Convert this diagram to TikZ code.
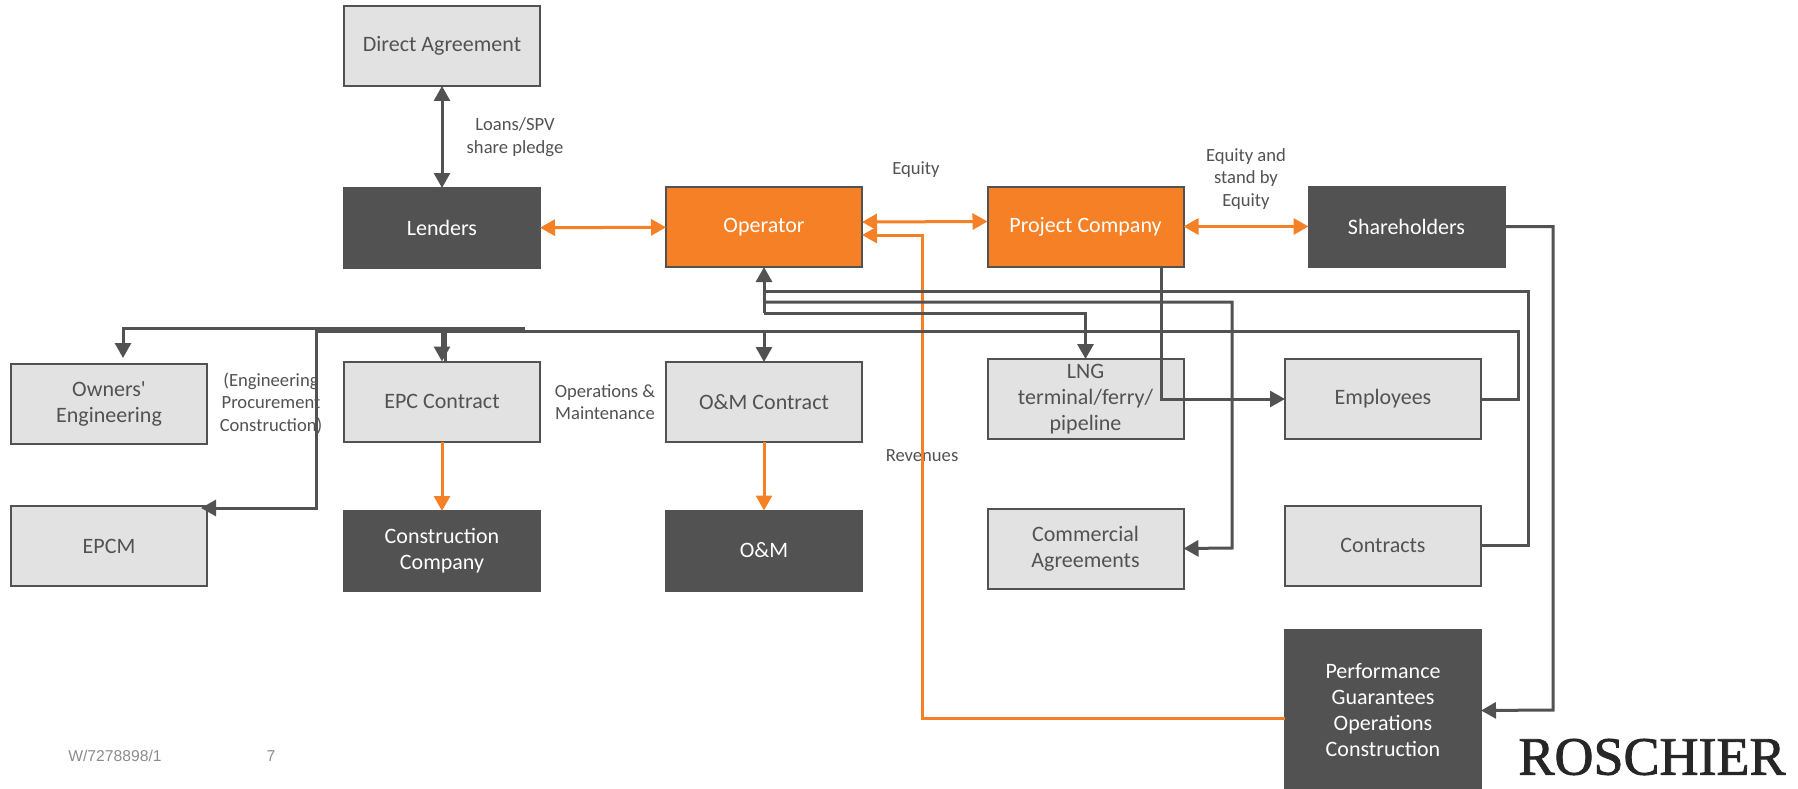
\documentclass[tikz,border=0pt]{standalone}
\usepackage{fontspec}
\setmainfont{Carlito}
\newfontfamily\footfont{Liberation Sans}
\newfontfamily\logofont[FakeBold=1.5]{Liberation Serif}
\usetikzlibrary{
    arrows.meta
}
\definecolor{ink}{HTML}{525252}
\definecolor{hot}{HTML}{F58025}
\definecolor{soft}{HTML}{E2E2E2}
\tikzset{
  basic/.style = {
      rectangle,
      minimum width=196pt,
      minimum height=80pt,
      inner sep=0pt,
      outer sep=0pt,
      line width=2pt,
      align=center,
      font=\fontsize{22}{26}\selectfont
  },
  softbox/.style = {
      basic,
      draw=ink,
      fill=soft,
      text=ink
  },
  darkbox/.style = {
      basic,
      draw=ink,
      fill=ink,
      text=white
  },
  hotbox/.style = {
      basic,
      draw=ink,
      fill=hot,
      text=white
  },
  caption/.style = {
      align=center,
      inner sep=0pt,
      text=ink,
      font=\fontsize{18.6}{22.5}\selectfont
  },
  link/.style = {
      draw=ink,
      line width=3pt
  },
  flow/.style = {
      draw=hot,
      line width=3pt
  }
}

\begin{document}
\begin{tikzpicture}[x=1pt, y=1pt, node distance=322pt, >={Triangle[length=15pt,width=16pt]}]
        \useasboundingbox (0,0) rectangle (1798,-789);
        % Top rows
        \node[softbox] (direct) at (442,-46) {Direct Agreement};
        \node[darkbox, below of=direct, node distance=182pt] (lenders) {Lenders};
        \node[hotbox, right of=lenders, yshift=1pt] (operator) {Operator};
        \node[hotbox, right of=operator, node distance=321.5pt, yshift=0.5pt] (project) {Project Company};
        \node[darkbox, right of=project, node distance=321pt] (shareholders) {Shareholders};
        % Contract rows
        \node[softbox, below of=lenders, node distance=173.5pt] (epc) {EPC Contract};
        \node[softbox, left of=epc, node distance=333pt, yshift=-2pt] (owners) {Owners\textquotesingle\\Engineering};
        \node[softbox, below of=operator, node distance=175pt] (omcontract) {O\&M Contract};
        \node[softbox, below of=project, node distance=172.5pt] (lng) {LNG\\terminal/ferry/\\pipeline};
        \node[softbox, right of=lng, node distance=297.5pt] (employees) {Employees};
        % Lower rows
        \node[softbox, below of=owners, node distance=142.5pt] (epcm) {EPCM};
        \node[darkbox, below of=epc, node distance=149.5pt] (construction) {Construction\\Company};
        \node[darkbox, below of=omcontract, node distance=148.5pt] (om) {O\&M};
        \node[softbox, below of=lng, node distance=149.5pt] (commercial) {Commercial\\Agreements};
        \node[softbox, below of=employees, node distance=146.5pt] (contracts) {Contracts};
        \node[darkbox, below of=contracts, node distance=165pt, minimum height=162pt] (perf) {Performance\\Guarantees\\Operations\\Construction};
        % Captions
        \node[caption] (loans) at (515,-137) {Loans/SPV\\share pledge};
        \node[caption] (equity) at (916,-170) {Equity};
        \node[caption] (standby) at (1246,-179) {Equity and\\stand by\\Equity};
        \node[caption] (engineering) at (271,-403) {(Engineering\\Procurement\\Construction)};
        \node[caption] (operations) at (605,-402) {Operations \&\\Maintenance};
        \node[caption] (revenues) at (922,-456) {Revenues};
        % Footer
        \node[text=gray!90, font=\footfont\fontsize{15.7}{18}\selectfont] (docref) at (115,-756) {W/7278898/1};
        \node[text=gray!90, font=\footfont\fontsize{15.7}{18}\selectfont] (pageno) at (271,-756) {7};
        \node[text=black!85, font=\logofont\fontsize{54}{60}\selectfont] (logo) at (1652,-757) {ROSCHIER};
        % Bends
        \coordinate (stem) at (764,-313);
        \coordinate (tapC) at (764,-302);
        \coordinate (tapD) at (764,-291);
        \coordinate (bendC) at (1232,-548);
        \coordinate (bendD) at (1528,-291);
        \coordinate (bendE) at (1518,-331);
        \coordinate (busE) at (316,-331);
        \coordinate (tapO) at (764,-331);
        \coordinate (tapP) at (442,-331);
        \coordinate (ownstart) at (525,-328);
        \coordinate (ownend) at (123,-358);
        \coordinate (doublea) at (445.5,-328);
        \coordinate (doubleb) at (445.5,-361);
        \coordinate (shbend) at (1553,-710);
        \coordinate (revbend) at (922,-235);
        \coordinate (epcmtip) at (201,-508);
        % Edges
        \path[link, <->] (direct) -- (lenders);
        \path[flow, <->] (lenders) -- (operator);
        \path[flow, <->] ([yshift=5pt]operator.east) -- ([yshift=5pt]project.west);
        \path[flow, <->] (project) -- (shareholders);
        \path[flow, ->] (epc) -- (construction);
        \path[flow, ->] (omcontract) -- (om);
        \path[flow, ->] ([yshift=-8pt]perf.west) -| (revbend) -- ([yshift=-8pt]operator.east);
        \path[link, ->] (stem) -- (operator.south);
        \path[link, ->] (stem) -| (lng.north);
        \path[link, ->] (tapC) -| (bendC) -- (commercial.east);
        \path[link] (contracts.east) -| (bendD) -- (tapD);
        \path[link, ->] (employees.east) -| (bendE) -- (busE) |- (epcmtip);
        \path[link, ->] (tapO) -- (omcontract.north);
        \path[link, ->] (tapP) -- (epc.north);
        \path[link] (doublea) -- (doubleb);
        \path[link, ->] (ownstart) -| (ownend);
        \path[link, ->] ([xshift=75.5pt]project.south) |- (employees.west);
        \path[link, ->] (shareholders.east) -| (shbend) -- (perf.east);
    \end{tikzpicture}
\end{document}
